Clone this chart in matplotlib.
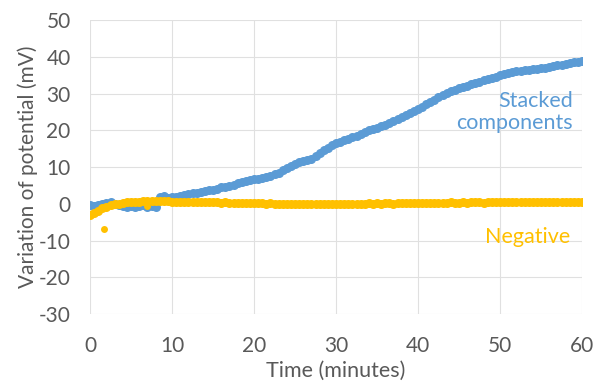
import numpy as np
import matplotlib
matplotlib.use('Agg')
import matplotlib.pyplot as plt

# sampling times (minutes), one reading every 30 s
time = np.arange(0, 60.5, 0.5)

stacked = [
    -0.3, -0.6, -0.2, 0.0, 0.3, 0.4, 0.1, -0.4, -0.6, -0.8,
    -0.5, -0.9, -0.6, -0.4, -0.8, -0.5, -0.7, 1.8, 2.2, 1.6,
    1.9, 1.9, 2.1, 2.4, 2.6, 2.9, 3.0, 3.3, 3.5, 3.7,
    3.9, 4.2, 4.5, 4.7, 5.0, 5.2, 5.6, 5.9, 6.2, 6.5,
    6.7, 6.9, 7.1, 7.4, 7.7, 8.1, 8.5, 9.1, 9.8, 10.4,
    10.9, 11.3, 11.7, 12.0, 12.3, 13.0, 13.8, 14.6, 15.3, 16.0,
    16.5, 16.9, 17.3, 17.7, 18.1, 18.6, 19.1, 19.6, 20.0, 20.3,
    20.7, 21.2, 21.6, 22.0, 22.6, 23.1, 23.6, 24.2, 24.8, 25.3,
    25.9, 26.5, 27.2, 27.8, 28.4, 29.0, 29.6, 30.2, 30.7, 31.1,
    31.5, 31.9, 32.2, 32.5, 32.9, 33.3, 33.6, 33.9, 34.3, 34.6,
    35.0, 35.4, 35.7, 35.9, 36.1, 36.2, 36.4, 36.5, 36.7, 36.8,
    36.9, 37.1, 37.3, 37.5, 37.7, 37.9, 38.2, 38.4, 38.5, 38.7,
    38.8,
]

negative = [
    -3.0, -2.4, -1.8, -1.2, -0.8, -0.4, -0.1, 0.1, 0.3, 0.4,
    0.5, 0.6, 0.6, 0.7, 0.7, 0.7, 0.8, 0.8, 0.7, 0.7,
    0.6, 0.6, 0.5, 0.6, 0.5, 0.5, 0.5, 0.4, 0.5, 0.4,
    0.4, 0.4, 0.3, 0.4, 0.3, 0.3, 0.3, 0.2, 0.3, 0.2,
    0.2, 0.2, 0.2, 0.1, 0.2, 0.1, 0.1, 0.1, 0.1, 0.0,
    0.1, 0.0, 0.1, 0.0, 0.0, 0.1, 0.0, 0.0, 0.1, 0.0,
    0.1, 0.0, 0.1, 0.1, 0.0, 0.1, 0.1, 0.1, 0.2, 0.1,
    0.2, 0.1, 0.2, 0.2, 0.1, 0.2, 0.2, 0.2, 0.3, 0.2,
    0.3, 0.2, 0.3, 0.3, 0.2, 0.3, 0.3, 0.3, 0.4, 0.3,
    0.3, 0.4, 0.3, 0.4, 0.4, 0.4, 0.3, 0.4, 0.4, 0.4,
    0.5, 0.4, 0.5, 0.4, 0.5, 0.5, 0.4, 0.5, 0.5, 0.5,
    0.5, 0.6, 0.5, 0.5, 0.6, 0.5, 0.6, 0.6, 0.5, 0.6,
    0.4,
]

# stray readings of the negative control
neg_out_t = [1.7, 7.0]
neg_out_v = [-6.8, -0.5]

blue = '#5B9BD5'
gold = '#FFC000'
grey = '#595959'

plt.rcParams['font.family'] = ['Lato', 'DejaVu Sans']
plt.rcParams['axes.unicode_minus'] = False

fig = plt.figure(figsize=(6, 3.87), dpi=100)
ax = fig.add_axes([0.15, 0.188, 0.82, 0.76])

ax.plot(time, stacked, 'o', color=blue, markersize=6.5, markeredgewidth=0)
ax.plot(time, negative, 'o', color=gold, markersize=6.5, markeredgewidth=0)
ax.plot(neg_out_t, neg_out_v, 'o', color=gold, markersize=5, markeredgewidth=0)

ax.set_xlim(0, 60)
ax.set_ylim(-30, 50)
ax.set_xticks(range(0, 61, 10))
ax.set_yticks(range(-30, 51, 10))
ax.grid(True, color='#e0e0e0', linewidth=0.8)
ax.set_axisbelow(True)
for s in ax.spines.values():
    s.set_visible(False)
ax.tick_params(length=0, labelsize=15, colors=grey)
ax.tick_params(axis='x', pad=16)
ax.tick_params(axis='y', pad=14)

ax.set_xlabel('Time (minutes)', fontsize=15.5, color=grey, labelpad=3)
ax.set_ylabel('Variation of potential (mV)', fontsize=15, color=grey)
ax.yaxis.set_label_coords(-0.105, 0.5)

ax.text(58.9, 25, 'Stacked\ncomponents', color=blue, fontsize=15.5,
        ha='right', va='center', linespacing=1.1)
ax.text(58.6, -8.9, 'Negative', color=gold, fontsize=15.5, ha='right', va='center')

fig.savefig('out.png', dpi=100)
